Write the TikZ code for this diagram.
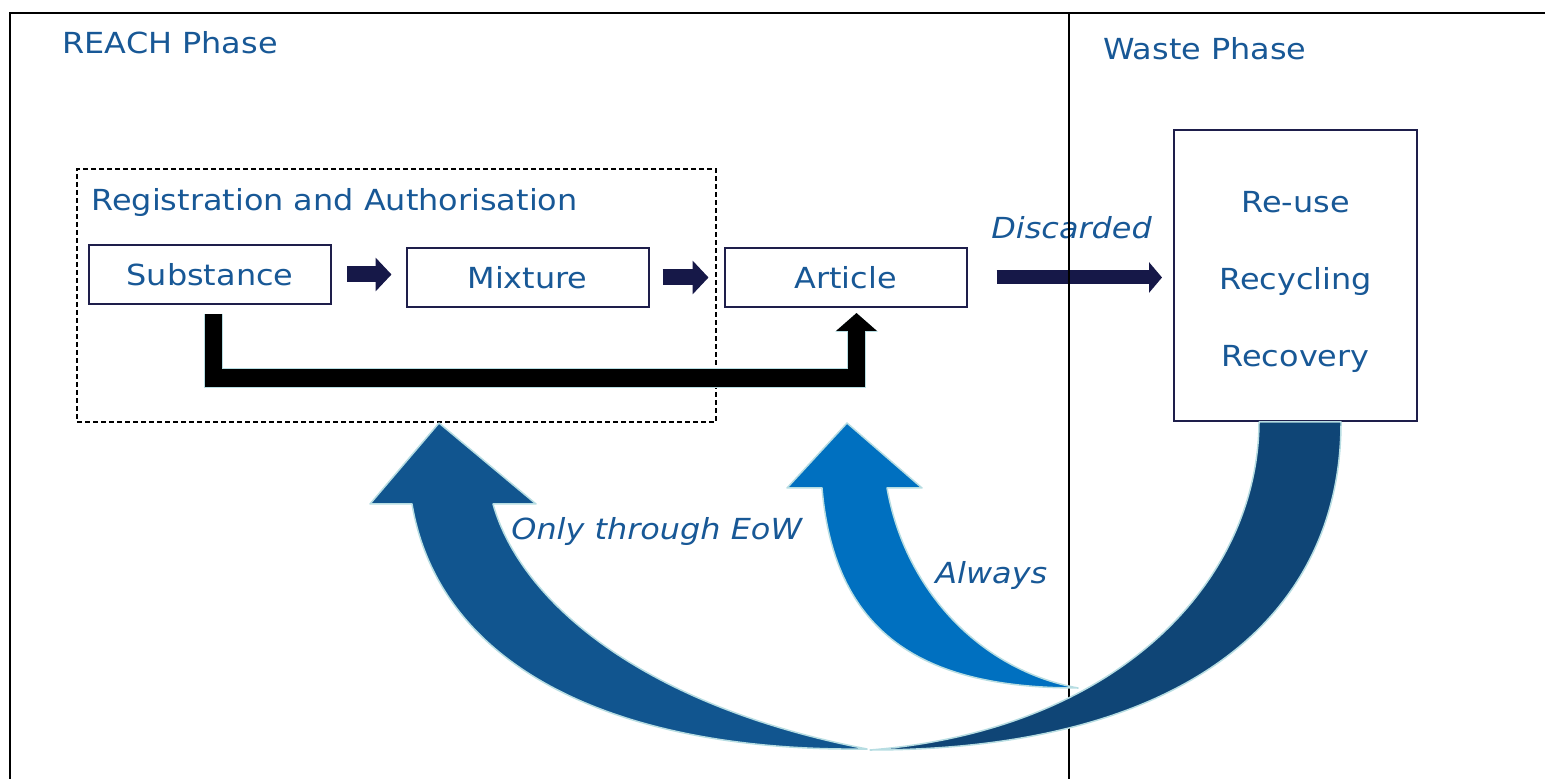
\documentclass[tikz,border=0pt]{standalone}
\usepackage{fontspec}
\setmainfont{DejaVu Sans}[FakeStretch=1.1]
\usepackage{tikz}
\usetikzlibrary{
  arrows.meta,
  calc,
  positioning,
}
\definecolor{reachblue}{RGB}{24, 88, 150}
\definecolor{boxnavy}{RGB}{30, 30, 75}
\definecolor{arrownavy}{RGB}{22, 24, 72}
\definecolor{loopdark}{RGB}{15, 69, 118}
\definecolor{loopmid}{RGB}{17, 85, 143}
\definecolor{looplight}{RGB}{0, 112, 192}
\definecolor{rimcyan}{RGB}{183, 221, 226}
\tikzstyle{procbox} = [
  draw=boxnavy,
  line width=1pt,
  fill=white,
  minimum width=121pt,
  minimum height=29.5pt,
  inner sep=0pt,
  text=reachblue,
]
\tikzstyle{phasetext} = [anchor=base west, inner sep=0pt, text=reachblue]
\tikzstyle{flowarrow} = [
  -{Triangle[length=8pt, width=16.5pt]},
  line width=8pt,
  arrownavy,
]
\tikzstyle{loopband} = [draw=rimcyan, line width=0.75pt, line join=round]

\begin{document}
\begin{tikzpicture}[x=0.5pt, y=-0.5pt]
      \fontsize{14.5}{17}\selectfont
      \useasboundingbox (0,0) rectangle (1545,779);
      % frame of the two phases
      \draw[line width=1.2pt] (10,779) -- (10,13) -- (1545,13);
      \node[draw, dashed, dash pattern=on 2.5pt off 1.5pt, line width=0.6pt,
        minimum width=319.5pt, minimum height=126.5pt] (reg) at (396.5,295.5) {};
      \node[phasetext] (reachtitle) at (62,54) {REACH Phase};
      \node[phasetext] (wastetitle) at (1103,60) {Waste Phase};
      \node[phasetext] (regtitle) at (91,211) {Registration and Authorisation};
      \node[procbox] (sub) at (210,274.5) {Substance};
      \node[procbox] (mix) at (527.5,277.5) {Mixture};
      \node[procbox] (art) at (845.5,277.5) {Article};
      \node[procbox, minimum width=121.5pt, minimum height=145.5pt] (reuse) at (1295.5,276) {};
      \node[text=reachblue, align=center, inner sep=0pt,
        font=\fontsize{14.5}{38.5}\selectfont] (reusetext) at ($(reuse.center)+(0,6)$)
        {Re-use\\Recycling\\Recovery};
      \node[phasetext] (discarded) at (991,239) {\itshape Discarded};
      \node[phasetext] (eow) at (511,539) {\itshape Only through EoW};
      \node[phasetext] (always) at (935,583) {\itshape Always};
      % straight flows
      \draw[flowarrow, shorten <=7.5pt, shorten >=7pt] (sub.east) -- (sub.east -| mix.west);
      \draw[flowarrow, shorten <=6.5pt, shorten >=7.5pt] (mix.east) -- (art.west);
      \draw[flowarrow, line width=7pt, -{Triangle[length=6.5pt, width=15pt]},
        shorten <=14.5pt, shorten >=5.5pt] (art.east) -- (art.east -| reuse.west);
      % substance straight into article
      \coordinate (subfoot) at ($(sub.south)+(3.5,9)$);
      \coordinate (artfoot) at ($(art.south)+(11,5)$);
      \coordinate (artbend) at ($(art.south)+(11,70)$);
      \draw[rimcyan, line width=9.75pt, -{Triangle[length=9.5pt, width=21pt]}]
        (subfoot) |- (artbend) -- (artfoot);
      \draw[black, line width=8.75pt, -{Triangle[length=9pt, width=20pt]}]
        (subfoot) |- (artbend) -- (artfoot);
      \draw[line width=1pt] (1069,13) -- (1069,779);
      % loops back from the waste phase
      \filldraw[loopband, fill=loopdark] (1259,422) -- (1341,422)
        .. controls (1341,620) and (1180,750) .. (870,750)
        .. controls (1120,730) and (1258,580) .. (1259,422) -- cycle;
      \filldraw[loopband, fill=loopmid] (439,423) -- (536,504) -- (493,504)
        .. controls (520,600) and (640,705) .. (867,749)
        .. controls (620,752) and (440,670) .. (412,504) -- (370,504) -- cycle;
      \filldraw[loopband, fill=looplight] (847,423) -- (922,488) -- (887,488)
        .. controls (905,590) and (980,670) .. (1078,688)
        .. controls (930,688) and (835,640) .. (822,488) -- (787,488) -- cycle;
\end{tikzpicture}
\end{document}
